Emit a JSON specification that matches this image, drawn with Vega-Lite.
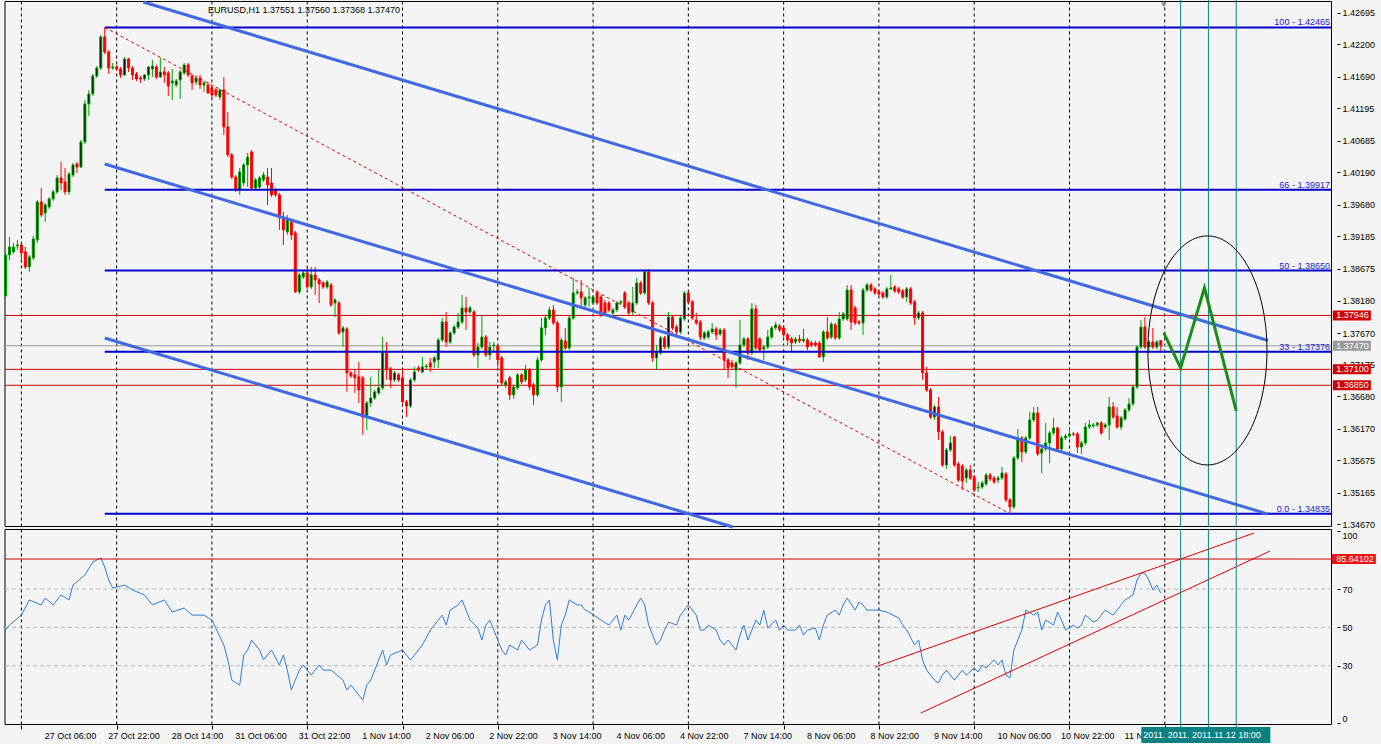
{
"$schema": "https://vega.github.io/schema/vega-lite/v6.json",
"width": 1381,
"height": 744,
"autosize": {"type": "none"},
"padding": 0,
"background": "#f4f4f4",
"config": {
  "view": {"stroke": null, "fill": "#f4f4f4"},
  "font": "Liberation Sans",
  "axis": {"labelFont": "Liberation Sans", "labelFontSize": 9, "labelColor": "#000000", "tickColor": "#000000", "domain": false, "grid": false, "labelOverlap": false}
},
"datasets": {
  "candles": [
{"i":0,"o":1.38252,"h":1.38943,"l":1.38189,"c":1.38896},
{"i":1,"o":1.38896,"h":1.39178,"l":1.38817,"c":1.39021},
{"i":2,"o":1.38943,"h":1.39084,"l":1.38911,"c":1.39021},
{"i":3,"o":1.39037,"h":1.39131,"l":1.38974,"c":1.39053},
{"i":4,"o":1.39053,"h":1.39084,"l":1.38770,"c":1.38927},
{"i":5,"o":1.38943,"h":1.39021,"l":1.38676,"c":1.38707},
{"i":6,"o":1.38707,"h":1.38896,"l":1.38629,"c":1.38864},
{"i":7,"o":1.38848,"h":1.39194,"l":1.38817,"c":1.39147},
{"i":8,"o":1.39131,"h":1.39759,"l":1.39084,"c":1.39728},
{"i":9,"o":1.39728,"h":1.39946,"l":1.39492,"c":1.39524},
{"i":10,"o":1.39555,"h":1.39712,"l":1.39414,"c":1.39680},
{"i":11,"o":1.39649,"h":1.39806,"l":1.39618,"c":1.39775},
{"i":12,"o":1.39775,"h":1.39916,"l":1.39743,"c":1.39885},
{"i":13,"o":1.39885,"h":1.40151,"l":1.39853,"c":1.40104},
{"i":14,"o":1.40104,"h":1.40355,"l":1.39916,"c":1.40025},
{"i":15,"o":1.40041,"h":1.40260,"l":1.39838,"c":1.39885},
{"i":16,"o":1.39885,"h":1.40198,"l":1.39838,"c":1.40166},
{"i":17,"o":1.40151,"h":1.40339,"l":1.40119,"c":1.40308},
{"i":18,"o":1.40323,"h":1.40355,"l":1.40182,"c":1.40276},
{"i":19,"o":1.40276,"h":1.40700,"l":1.40260,"c":1.40669},
{"i":20,"o":1.40669,"h":1.41328,"l":1.40637,"c":1.41265},
{"i":21,"o":1.41265,"h":1.41485,"l":1.41077,"c":1.41422},
{"i":22,"o":1.41422,"h":1.41735,"l":1.41391,"c":1.41704},
{"i":23,"o":1.41704,"h":1.41861,"l":1.41673,"c":1.41829},
{"i":24,"o":1.41829,"h":1.42348,"l":1.41798,"c":1.42316},
{"i":25,"o":1.42316,"h":1.42465,"l":1.42049,"c":1.42081},
{"i":26,"o":1.42081,"h":1.42112,"l":1.41735,"c":1.41829},
{"i":27,"o":1.41829,"h":1.41908,"l":1.41798,"c":1.41845},
{"i":28,"o":1.41845,"h":1.41877,"l":1.41782,"c":1.41814},
{"i":29,"o":1.41814,"h":1.41845,"l":1.41673,"c":1.41720},
{"i":30,"o":1.41720,"h":1.42002,"l":1.41704,"c":1.41971},
{"i":31,"o":1.41971,"h":1.41987,"l":1.41767,"c":1.41829},
{"i":32,"o":1.41829,"h":1.41861,"l":1.41642,"c":1.41720},
{"i":33,"o":1.41735,"h":1.41767,"l":1.41626,"c":1.41657},
{"i":34,"o":1.41673,"h":1.41704,"l":1.41595,"c":1.41657},
{"i":35,"o":1.41657,"h":1.41735,"l":1.41626,"c":1.41720},
{"i":36,"o":1.41720,"h":1.41861,"l":1.41642,"c":1.41845},
{"i":37,"o":1.41814,"h":1.41955,"l":1.41688,"c":1.41861},
{"i":38,"o":1.41845,"h":1.41877,"l":1.41657,"c":1.41688},
{"i":39,"o":1.41688,"h":1.41987,"l":1.41673,"c":1.41767},
{"i":40,"o":1.41767,"h":1.41845,"l":1.41595,"c":1.41720},
{"i":41,"o":1.41751,"h":1.41782,"l":1.41391,"c":1.41547},
{"i":42,"o":1.41595,"h":1.41814,"l":1.41328,"c":1.41626},
{"i":43,"o":1.41563,"h":1.41657,"l":1.41532,"c":1.41626},
{"i":44,"o":1.41642,"h":1.41798,"l":1.41344,"c":1.41767},
{"i":45,"o":1.41751,"h":1.41908,"l":1.41720,"c":1.41877},
{"i":46,"o":1.41877,"h":1.41908,"l":1.41688,"c":1.41720},
{"i":47,"o":1.41704,"h":1.41735,"l":1.41485,"c":1.41595},
{"i":48,"o":1.41610,"h":1.41688,"l":1.41563,"c":1.41673},
{"i":49,"o":1.41673,"h":1.41720,"l":1.41501,"c":1.41563},
{"i":50,"o":1.41563,"h":1.41626,"l":1.41454,"c":1.41595},
{"i":51,"o":1.41563,"h":1.41610,"l":1.41422,"c":1.41438},
{"i":52,"o":1.41516,"h":1.41547,"l":1.41359,"c":1.41406},
{"i":53,"o":1.41485,"h":1.41516,"l":1.41375,"c":1.41406},
{"i":54,"o":1.41375,"h":1.41500,"l":1.41328,"c":1.41485},
{"i":55,"o":1.41485,"h":1.41688,"l":1.40778,"c":1.40904},
{"i":56,"o":1.40904,"h":1.41140,"l":1.40433,"c":1.40465},
{"i":57,"o":1.40465,"h":1.40496,"l":1.40088,"c":1.40119},
{"i":58,"o":1.40119,"h":1.40151,"l":1.39885,"c":1.39916},
{"i":59,"o":1.39916,"h":1.40260,"l":1.39838,"c":1.40198},
{"i":60,"o":1.40025,"h":1.40339,"l":1.39978,"c":1.40308},
{"i":61,"o":1.40308,"h":1.40496,"l":1.39962,"c":1.40433},
{"i":62,"o":1.40512,"h":1.40543,"l":1.39916,"c":1.39946},
{"i":63,"o":1.39946,"h":1.40104,"l":1.39916,"c":1.40072},
{"i":64,"o":1.39962,"h":1.40135,"l":1.39931,"c":1.40104},
{"i":65,"o":1.40072,"h":1.40198,"l":1.40041,"c":1.40151},
{"i":66,"o":1.40119,"h":1.40260,"l":1.39680,"c":1.39994},
{"i":67,"o":1.40025,"h":1.40260,"l":1.39806,"c":1.39838},
{"i":68,"o":1.39916,"h":1.39946,"l":1.39806,"c":1.39838},
{"i":69,"o":1.39838,"h":1.39869,"l":1.39288,"c":1.39476},
{"i":70,"o":1.39476,"h":1.39571,"l":1.39053,"c":1.39288},
{"i":71,"o":1.39257,"h":1.39524,"l":1.39210,"c":1.39445},
{"i":72,"o":1.39414,"h":1.39445,"l":1.39131,"c":1.39210},
{"i":73,"o":1.39241,"h":1.39272,"l":1.38299,"c":1.38315},
{"i":74,"o":1.38315,"h":1.38613,"l":1.38283,"c":1.38582},
{"i":75,"o":1.38550,"h":1.38660,"l":1.38519,"c":1.38613},
{"i":76,"o":1.38613,"h":1.38707,"l":1.38362,"c":1.38393},
{"i":77,"o":1.38393,"h":1.38707,"l":1.38362,"c":1.38582},
{"i":78,"o":1.38582,"h":1.38707,"l":1.38268,"c":1.38503},
{"i":79,"o":1.38503,"h":1.38535,"l":1.38142,"c":1.38440},
{"i":80,"o":1.38456,"h":1.38487,"l":1.38362,"c":1.38393},
{"i":81,"o":1.38393,"h":1.38503,"l":1.38362,"c":1.38472},
{"i":82,"o":1.38425,"h":1.38456,"l":1.38079,"c":1.38111},
{"i":83,"o":1.38142,"h":1.38221,"l":1.37922,"c":1.38189},
{"i":84,"o":1.38142,"h":1.38173,"l":1.37640,"c":1.37671},
{"i":85,"o":1.37687,"h":1.37781,"l":1.37451,"c":1.37750},
{"i":86,"o":1.37734,"h":1.37765,"l":1.36746,"c":1.37044},
{"i":87,"o":1.37044,"h":1.37075,"l":1.36966,"c":1.36997},
{"i":88,"o":1.37013,"h":1.37091,"l":1.36730,"c":1.36966},
{"i":89,"o":1.36982,"h":1.37216,"l":1.36573,"c":1.36777},
{"i":90,"o":1.36966,"h":1.36997,"l":1.36071,"c":1.36353},
{"i":91,"o":1.36353,"h":1.36604,"l":1.36149,"c":1.36573},
{"i":92,"o":1.36573,"h":1.36982,"l":1.36510,"c":1.36651},
{"i":93,"o":1.36651,"h":1.36777,"l":1.36620,"c":1.36746},
{"i":94,"o":1.36730,"h":1.37091,"l":1.36699,"c":1.36809},
{"i":95,"o":1.36809,"h":1.37608,"l":1.36777,"c":1.37357},
{"i":96,"o":1.37357,"h":1.37530,"l":1.36934,"c":1.37091},
{"i":97,"o":1.37107,"h":1.37138,"l":1.36809,"c":1.36934},
{"i":98,"o":1.36934,"h":1.37075,"l":1.36903,"c":1.37044},
{"i":99,"o":1.37013,"h":1.37044,"l":1.36903,"c":1.36934},
{"i":100,"o":1.36966,"h":1.37091,"l":1.36573,"c":1.36589},
{"i":101,"o":1.36589,"h":1.36620,"l":1.36353,"c":1.36526},
{"i":102,"o":1.36526,"h":1.36966,"l":1.36494,"c":1.36934},
{"i":103,"o":1.36934,"h":1.37138,"l":1.36903,"c":1.37060},
{"i":104,"o":1.37122,"h":1.37154,"l":1.37060,"c":1.37091},
{"i":105,"o":1.37060,"h":1.37295,"l":1.37044,"c":1.37138},
{"i":106,"o":1.37138,"h":1.37185,"l":1.37107,"c":1.37154},
{"i":107,"o":1.37201,"h":1.37279,"l":1.37060,"c":1.37138},
{"i":108,"o":1.37217,"h":1.37310,"l":1.37122,"c":1.37279},
{"i":109,"o":1.37248,"h":1.37593,"l":1.37122,"c":1.37561},
{"i":110,"o":1.37561,"h":1.37907,"l":1.37530,"c":1.37844},
{"i":111,"o":1.37844,"h":1.38001,"l":1.37451,"c":1.37530},
{"i":112,"o":1.37530,"h":1.37702,"l":1.37498,"c":1.37671},
{"i":113,"o":1.37671,"h":1.37797,"l":1.37640,"c":1.37765},
{"i":114,"o":1.37765,"h":1.37985,"l":1.37734,"c":1.37844},
{"i":115,"o":1.37844,"h":1.38268,"l":1.37812,"c":1.38064},
{"i":116,"o":1.38064,"h":1.38236,"l":1.37718,"c":1.38001},
{"i":117,"o":1.38001,"h":1.38095,"l":1.37970,"c":1.38064},
{"i":118,"o":1.38001,"h":1.38032,"l":1.37295,"c":1.37326},
{"i":119,"o":1.37326,"h":1.37514,"l":1.37122,"c":1.37451},
{"i":120,"o":1.37451,"h":1.37953,"l":1.37420,"c":1.37608},
{"i":121,"o":1.37608,"h":1.37640,"l":1.37295,"c":1.37326},
{"i":122,"o":1.37326,"h":1.37530,"l":1.37248,"c":1.37451},
{"i":123,"o":1.37467,"h":1.37530,"l":1.37373,"c":1.37482},
{"i":124,"o":1.37467,"h":1.37498,"l":1.37138,"c":1.37248},
{"i":125,"o":1.37279,"h":1.37310,"l":1.36856,"c":1.36887},
{"i":126,"o":1.36856,"h":1.36934,"l":1.36809,"c":1.36903},
{"i":127,"o":1.36966,"h":1.36997,"l":1.36620,"c":1.36699},
{"i":128,"o":1.36699,"h":1.36856,"l":1.36636,"c":1.36824},
{"i":129,"o":1.36809,"h":1.37044,"l":1.36777,"c":1.37013},
{"i":130,"o":1.37013,"h":1.37044,"l":1.36871,"c":1.36903},
{"i":131,"o":1.36934,"h":1.37170,"l":1.36903,"c":1.37091},
{"i":132,"o":1.37091,"h":1.37122,"l":1.36777,"c":1.36824},
{"i":133,"o":1.36856,"h":1.36887,"l":1.36542,"c":1.36699},
{"i":134,"o":1.36699,"h":1.37295,"l":1.36667,"c":1.37248},
{"i":135,"o":1.37248,"h":1.37907,"l":1.37217,"c":1.37750},
{"i":136,"o":1.37750,"h":1.37938,"l":1.37640,"c":1.37907},
{"i":137,"o":1.37907,"h":1.38079,"l":1.37875,"c":1.38032},
{"i":138,"o":1.38032,"h":1.38111,"l":1.37797,"c":1.37828},
{"i":139,"o":1.37828,"h":1.37860,"l":1.36746,"c":1.36824},
{"i":140,"o":1.36824,"h":1.37593,"l":1.36589,"c":1.37561},
{"i":141,"o":1.37546,"h":1.37750,"l":1.37404,"c":1.37436},
{"i":142,"o":1.37436,"h":1.37938,"l":1.37404,"c":1.37907},
{"i":143,"o":1.37907,"h":1.38535,"l":1.37875,"c":1.38299},
{"i":144,"o":1.38299,"h":1.38362,"l":1.38268,"c":1.38315},
{"i":145,"o":1.38315,"h":1.38503,"l":1.38079,"c":1.38221},
{"i":146,"o":1.38111,"h":1.38252,"l":1.38079,"c":1.38221},
{"i":147,"o":1.38221,"h":1.38378,"l":1.38079,"c":1.38236},
{"i":148,"o":1.38142,"h":1.38268,"l":1.38111,"c":1.38236},
{"i":149,"o":1.38299,"h":1.38346,"l":1.38111,"c":1.38142},
{"i":150,"o":1.38236,"h":1.38268,"l":1.37922,"c":1.37954},
{"i":151,"o":1.38142,"h":1.38189,"l":1.37954,"c":1.37985},
{"i":152,"o":1.38142,"h":1.38173,"l":1.38001,"c":1.38032},
{"i":153,"o":1.37985,"h":1.38064,"l":1.37954,"c":1.38032},
{"i":154,"o":1.38032,"h":1.38173,"l":1.38001,"c":1.38142},
{"i":155,"o":1.38142,"h":1.38189,"l":1.38111,"c":1.38158},
{"i":156,"o":1.38299,"h":1.38330,"l":1.38048,"c":1.38079},
{"i":157,"o":1.38142,"h":1.38173,"l":1.37954,"c":1.37985},
{"i":158,"o":1.38001,"h":1.38393,"l":1.37954,"c":1.38142},
{"i":159,"o":1.38142,"h":1.38535,"l":1.38111,"c":1.38456},
{"i":160,"o":1.38456,"h":1.38487,"l":1.38268,"c":1.38299},
{"i":161,"o":1.38299,"h":1.38660,"l":1.38268,"c":1.38629},
{"i":162,"o":1.38629,"h":1.38676,"l":1.38111,"c":1.38142},
{"i":163,"o":1.38142,"h":1.38173,"l":1.37217,"c":1.37279},
{"i":164,"o":1.37279,"h":1.37482,"l":1.37091,"c":1.37357},
{"i":165,"o":1.37357,"h":1.37624,"l":1.37326,"c":1.37593},
{"i":166,"o":1.37593,"h":1.37624,"l":1.37420,"c":1.37451},
{"i":167,"o":1.37451,"h":1.38001,"l":1.37420,"c":1.37922},
{"i":168,"o":1.37922,"h":1.37954,"l":1.37718,"c":1.37750},
{"i":169,"o":1.37765,"h":1.37797,"l":1.37655,"c":1.37687},
{"i":170,"o":1.37687,"h":1.37938,"l":1.37655,"c":1.37907},
{"i":171,"o":1.37891,"h":1.38330,"l":1.37860,"c":1.38299},
{"i":172,"o":1.38299,"h":1.38330,"l":1.38126,"c":1.38158},
{"i":173,"o":1.38158,"h":1.38189,"l":1.37875,"c":1.37907},
{"i":174,"o":1.37875,"h":1.37985,"l":1.37797,"c":1.37828},
{"i":175,"o":1.37844,"h":1.37875,"l":1.37561,"c":1.37608},
{"i":176,"o":1.37593,"h":1.37702,"l":1.37561,"c":1.37671},
{"i":177,"o":1.37608,"h":1.37718,"l":1.37577,"c":1.37687},
{"i":178,"o":1.37687,"h":1.37828,"l":1.37655,"c":1.37734},
{"i":179,"o":1.37734,"h":1.37765,"l":1.37561,"c":1.37640},
{"i":180,"o":1.37655,"h":1.37750,"l":1.37624,"c":1.37718},
{"i":181,"o":1.37718,"h":1.37750,"l":1.37091,"c":1.37248},
{"i":182,"o":1.37248,"h":1.37279,"l":1.36966,"c":1.37122},
{"i":183,"o":1.37201,"h":1.37248,"l":1.37107,"c":1.37138},
{"i":184,"o":1.37091,"h":1.37232,"l":1.36809,"c":1.37201},
{"i":185,"o":1.37201,"h":1.37875,"l":1.37170,"c":1.37482},
{"i":186,"o":1.37482,"h":1.37608,"l":1.37451,"c":1.37577},
{"i":187,"o":1.37577,"h":1.37608,"l":1.37248,"c":1.37357},
{"i":188,"o":1.37357,"h":1.38142,"l":1.37326,"c":1.38048},
{"i":189,"o":1.38048,"h":1.38111,"l":1.37404,"c":1.37436},
{"i":190,"o":1.37577,"h":1.37608,"l":1.37373,"c":1.37404},
{"i":191,"o":1.37420,"h":1.37482,"l":1.37248,"c":1.37451},
{"i":192,"o":1.37451,"h":1.37718,"l":1.37420,"c":1.37608},
{"i":193,"o":1.37608,"h":1.37781,"l":1.37577,"c":1.37750},
{"i":194,"o":1.37750,"h":1.37844,"l":1.37718,"c":1.37797},
{"i":195,"o":1.37781,"h":1.37812,"l":1.37687,"c":1.37718},
{"i":196,"o":1.37750,"h":1.37797,"l":1.37608,"c":1.37640},
{"i":197,"o":1.37640,"h":1.37671,"l":1.37482,"c":1.37561},
{"i":198,"o":1.37577,"h":1.37608,"l":1.37373,"c":1.37514},
{"i":199,"o":1.37530,"h":1.37608,"l":1.37498,"c":1.37577},
{"i":200,"o":1.37577,"h":1.37640,"l":1.37514,"c":1.37546},
{"i":201,"o":1.37546,"h":1.37734,"l":1.37514,"c":1.37577},
{"i":202,"o":1.37561,"h":1.37593,"l":1.37404,"c":1.37451},
{"i":203,"o":1.37514,"h":1.37546,"l":1.37451,"c":1.37482},
{"i":204,"o":1.37514,"h":1.37546,"l":1.37451,"c":1.37482},
{"i":205,"o":1.37514,"h":1.37546,"l":1.37279,"c":1.37295},
{"i":206,"o":1.37295,"h":1.37718,"l":1.37217,"c":1.37687},
{"i":207,"o":1.37687,"h":1.37922,"l":1.37561,"c":1.37593},
{"i":208,"o":1.37608,"h":1.37844,"l":1.37577,"c":1.37812},
{"i":209,"o":1.37797,"h":1.37828,"l":1.37561,"c":1.37593},
{"i":210,"o":1.37593,"h":1.38001,"l":1.37561,"c":1.37891},
{"i":211,"o":1.37891,"h":1.38001,"l":1.37860,"c":1.37970},
{"i":212,"o":1.37891,"h":1.38425,"l":1.37860,"c":1.38346},
{"i":213,"o":1.38346,"h":1.38425,"l":1.37718,"c":1.37844},
{"i":214,"o":1.38064,"h":1.38095,"l":1.37797,"c":1.37828},
{"i":215,"o":1.37844,"h":1.37875,"l":1.37797,"c":1.37828},
{"i":216,"o":1.37828,"h":1.38378,"l":1.37640,"c":1.38346},
{"i":217,"o":1.38346,"h":1.38456,"l":1.38315,"c":1.38425},
{"i":218,"o":1.38425,"h":1.38456,"l":1.38315,"c":1.38346},
{"i":219,"o":1.38362,"h":1.38393,"l":1.38268,"c":1.38299},
{"i":220,"o":1.38315,"h":1.38346,"l":1.38252,"c":1.38283},
{"i":221,"o":1.38299,"h":1.38330,"l":1.38205,"c":1.38236},
{"i":222,"o":1.38236,"h":1.38393,"l":1.38205,"c":1.38362},
{"i":223,"o":1.38362,"h":1.38582,"l":1.38346,"c":1.38378},
{"i":224,"o":1.38393,"h":1.38425,"l":1.38299,"c":1.38330},
{"i":225,"o":1.38362,"h":1.38393,"l":1.38283,"c":1.38315},
{"i":226,"o":1.38330,"h":1.38362,"l":1.38205,"c":1.38236},
{"i":227,"o":1.38236,"h":1.38393,"l":1.38158,"c":1.38362},
{"i":228,"o":1.38362,"h":1.38393,"l":1.38111,"c":1.38142},
{"i":229,"o":1.38158,"h":1.38189,"l":1.37797,"c":1.37907},
{"i":230,"o":1.37907,"h":1.38016,"l":1.37875,"c":1.37985},
{"i":231,"o":1.37985,"h":1.38016,"l":1.36934,"c":1.37044},
{"i":232,"o":1.37044,"h":1.37138,"l":1.36746,"c":1.36777},
{"i":233,"o":1.36777,"h":1.36809,"l":1.36322,"c":1.36353},
{"i":234,"o":1.36353,"h":1.36542,"l":1.36306,"c":1.36510},
{"i":235,"o":1.36510,"h":1.36667,"l":1.35992,"c":1.36118},
{"i":236,"o":1.36118,"h":1.36149,"l":1.35568,"c":1.35600},
{"i":237,"o":1.35600,"h":1.35866,"l":1.35537,"c":1.35835},
{"i":238,"o":1.35835,"h":1.36055,"l":1.35804,"c":1.35945},
{"i":239,"o":1.36039,"h":1.36055,"l":1.35568,"c":1.35600},
{"i":240,"o":1.35615,"h":1.35647,"l":1.35333,"c":1.35364},
{"i":241,"o":1.35584,"h":1.35615,"l":1.35207,"c":1.35348},
{"i":242,"o":1.35395,"h":1.35552,"l":1.35317,"c":1.35521},
{"i":243,"o":1.35521,"h":1.35600,"l":1.35364,"c":1.35395},
{"i":244,"o":1.35411,"h":1.35443,"l":1.35176,"c":1.35207},
{"i":245,"o":1.35238,"h":1.35333,"l":1.35176,"c":1.35254},
{"i":246,"o":1.35254,"h":1.35348,"l":1.35223,"c":1.35317},
{"i":247,"o":1.35301,"h":1.35474,"l":1.35270,"c":1.35443},
{"i":248,"o":1.35443,"h":1.35474,"l":1.35348,"c":1.35380},
{"i":249,"o":1.35395,"h":1.35427,"l":1.35301,"c":1.35333},
{"i":250,"o":1.35364,"h":1.35427,"l":1.35317,"c":1.35395},
{"i":251,"o":1.35395,"h":1.35568,"l":1.35364,"c":1.35474},
{"i":252,"o":1.35458,"h":1.35490,"l":1.35019,"c":1.35051},
{"i":253,"o":1.35051,"h":1.35082,"l":1.34835,"c":1.34941},
{"i":254,"o":1.34941,"h":1.35741,"l":1.34910,"c":1.35710},
{"i":255,"o":1.35710,"h":1.36165,"l":1.35678,"c":1.36024},
{"i":256,"o":1.36024,"h":1.36055,"l":1.35647,"c":1.35804},
{"i":257,"o":1.35804,"h":1.36055,"l":1.35772,"c":1.36024},
{"i":258,"o":1.36024,"h":1.36432,"l":1.35992,"c":1.36306},
{"i":259,"o":1.36306,"h":1.36510,"l":1.36275,"c":1.36416},
{"i":260,"o":1.36416,"h":1.36510,"l":1.35741,"c":1.35772},
{"i":261,"o":1.35788,"h":1.35882,"l":1.35474,"c":1.35851},
{"i":262,"o":1.35851,"h":1.36259,"l":1.35819,"c":1.35945},
{"i":263,"o":1.35945,"h":1.36133,"l":1.35631,"c":1.36102},
{"i":264,"o":1.36102,"h":1.36338,"l":1.36071,"c":1.36180},
{"i":265,"o":1.36180,"h":1.36196,"l":1.35819,"c":1.35851},
{"i":266,"o":1.35851,"h":1.36055,"l":1.35819,"c":1.36024},
{"i":267,"o":1.36024,"h":1.36086,"l":1.35992,"c":1.36055},
{"i":268,"o":1.36055,"h":1.36165,"l":1.36024,"c":1.36086},
{"i":269,"o":1.36086,"h":1.36118,"l":1.36055,"c":1.36080},
{"i":270,"o":1.36086,"h":1.36118,"l":1.35788,"c":1.35882},
{"i":271,"o":1.35882,"h":1.35976,"l":1.35772,"c":1.35945},
{"i":272,"o":1.35945,"h":1.36259,"l":1.35914,"c":1.36196},
{"i":273,"o":1.36196,"h":1.36306,"l":1.36165,"c":1.36228},
{"i":274,"o":1.36212,"h":1.36259,"l":1.36180,"c":1.36228},
{"i":275,"o":1.36228,"h":1.36275,"l":1.36196,"c":1.36259},
{"i":276,"o":1.36259,"h":1.36290,"l":1.36071,"c":1.36102},
{"i":277,"o":1.36196,"h":1.36259,"l":1.36165,"c":1.36228},
{"i":278,"o":1.36228,"h":1.36667,"l":1.35992,"c":1.36510},
{"i":279,"o":1.36510,"h":1.36588,"l":1.36322,"c":1.36353},
{"i":280,"o":1.36369,"h":1.36510,"l":1.36165,"c":1.36196},
{"i":281,"o":1.36196,"h":1.36369,"l":1.36149,"c":1.36338},
{"i":282,"o":1.36322,"h":1.36494,"l":1.36290,"c":1.36463},
{"i":283,"o":1.36463,"h":1.36651,"l":1.36432,"c":1.36557},
{"i":284,"o":1.36557,"h":1.36856,"l":1.36526,"c":1.36824},
{"i":285,"o":1.36824,"h":1.37482,"l":1.36793,"c":1.37451},
{"i":286,"o":1.37451,"h":1.37875,"l":1.37420,"c":1.37765},
{"i":287,"o":1.37765,"h":1.37922,"l":1.37420,"c":1.37451},
{"i":288,"o":1.37451,"h":1.37561,"l":1.37357,"c":1.37530},
{"i":289,"o":1.37530,"h":1.37750,"l":1.37420,"c":1.37451},
{"i":290,"o":1.37451,"h":1.37561,"l":1.37420,"c":1.37530},
{"i":291,"o":1.37551,"h":1.37560,"l":1.37368,"c":1.37470}
  ],
  "rsi": [
{"i":0,"v":48.6},{"i":1,"v":51.2},{"i":4,"v":56.4},{"i":6,"v":64.3},{"i":9,"v":61.7},{"i":10,"v":65.3},{"i":12,"v":61.7},{"i":14,"v":66.9},{"i":16,"v":64.3},{"i":17,"v":72.1},{"i":20,"v":77.3},{"i":22,"v":84.1},{"i":24,"v":86.2},{"i":25,"v":81.5},{"i":26,"v":74.7},{"i":27,"v":70.5},{"i":30,"v":72.1},{"i":32,"v":69.5},{"i":35,"v":66.9},{"i":37,"v":61.7},{"i":40,"v":64.3},{"i":42,"v":58.0},{"i":45,"v":60.1},{"i":47,"v":56.4},{"i":50,"v":56.4},{"i":52,"v":53.8},{"i":55,"v":40.8},{"i":56,"v":33.0},{"i":57,"v":22.5},{"i":59,"v":19.9},{"i":60,"v":35.6},{"i":61,"v":38.2},{"i":62,"v":43.4},{"i":64,"v":38.2},{"i":65,"v":33.0},{"i":67,"v":38.2},{"i":69,"v":30.4},{"i":70,"v":35.6},{"i":71,"v":27.7},{"i":72,"v":17.3},{"i":74,"v":27.7},{"i":75,"v":30.4},{"i":77,"v":25.1},{"i":79,"v":30.4},{"i":80,"v":27.7},{"i":82,"v":27.7},{"i":85,"v":22.5},{"i":86,"v":17.3},{"i":87,"v":19.9},{"i":90,"v":12.1},{"i":91,"v":19.9},{"i":92,"v":22.5},{"i":94,"v":33.0},{"i":95,"v":38.2},{"i":96,"v":30.4},{"i":97,"v":35.6},{"i":100,"v":38.2},{"i":102,"v":33.0},{"i":105,"v":40.8},{"i":107,"v":48.6},{"i":110,"v":56.4},{"i":111,"v":51.2},{"i":112,"v":59.0},{"i":114,"v":61.7},{"i":115,"v":64.3},{"i":116,"v":59.0},{"i":117,"v":53.8},{"i":119,"v":49.7},{"i":120,"v":43.4},{"i":121,"v":51.2},{"i":122,"v":53.8},{"i":124,"v":43.4},{"i":125,"v":38.2},{"i":126,"v":35.6},{"i":127,"v":40.8},{"i":129,"v":38.2},{"i":130,"v":43.4},{"i":131,"v":40.8},{"i":132,"v":38.2},{"i":134,"v":40.8},{"i":135,"v":53.8},{"i":136,"v":61.7},{"i":137,"v":64.3},{"i":138,"v":43.4},{"i":139,"v":33.0},{"i":140,"v":51.2},{"i":141,"v":56.4},{"i":142,"v":64.3},{"i":144,"v":61.7},{"i":145,"v":61.7},{"i":146,"v":59.0},{"i":147,"v":58.0},{"i":150,"v":53.8},{"i":152,"v":51.2},{"i":154,"v":56.4},{"i":155,"v":48.6},{"i":156,"v":56.4},{"i":157,"v":53.8},{"i":159,"v":61.7},{"i":160,"v":65.3},{"i":161,"v":61.7},{"i":162,"v":51.2},{"i":164,"v":40.8},{"i":165,"v":43.4},{"i":166,"v":48.6},{"i":167,"v":52.8},{"i":169,"v":51.2},{"i":170,"v":56.4},{"i":171,"v":59.0},{"i":172,"v":61.7},{"i":174,"v":56.4},{"i":175,"v":48.6},{"i":176,"v":48.6},{"i":177,"v":51.2},{"i":179,"v":48.6},{"i":180,"v":43.4},{"i":181,"v":40.8},{"i":182,"v":43.4},{"i":184,"v":38.2},{"i":185,"v":46.0},{"i":186,"v":51.2},{"i":187,"v":43.4},{"i":189,"v":53.8},{"i":190,"v":51.2},{"i":191,"v":59.0},{"i":192,"v":49.7},{"i":194,"v":53.8},{"i":195,"v":48.6},{"i":196,"v":51.2},{"i":197,"v":48.6},{"i":199,"v":48.6},{"i":200,"v":51.2},{"i":201,"v":46.0},{"i":202,"v":48.6},{"i":204,"v":49.7},{"i":205,"v":43.4},{"i":206,"v":51.2},{"i":207,"v":56.4},{"i":209,"v":59.0},{"i":210,"v":56.4},{"i":211,"v":61.7},{"i":212,"v":65.3},{"i":214,"v":59.0},{"i":215,"v":63.2},{"i":216,"v":61.7},{"i":217,"v":59.0},{"i":220,"v":59.0},{"i":222,"v":58.0},{"i":225,"v":54.9},{"i":226,"v":51.2},{"i":227,"v":48.6},{"i":229,"v":40.8},{"i":230,"v":43.4},{"i":231,"v":33.0},{"i":232,"v":27.7},{"i":234,"v":22.5},{"i":235,"v":21.0},{"i":236,"v":25.1},{"i":237,"v":27.7},{"i":239,"v":22.5},{"i":240,"v":25.1},{"i":241,"v":27.7},{"i":242,"v":25.1},{"i":244,"v":28.8},{"i":245,"v":26.7},{"i":246,"v":30.4},{"i":247,"v":28.8},{"i":249,"v":33.0},{"i":250,"v":30.4},{"i":251,"v":33.0},{"i":252,"v":25.1},{"i":253,"v":23.6},{"i":254,"v":38.2},{"i":255,"v":43.4},{"i":256,"v":48.6},{"i":257,"v":59.0},{"i":259,"v":56.4},{"i":260,"v":58.0},{"i":261,"v":48.6},{"i":262,"v":53.8},{"i":264,"v":51.2},{"i":265,"v":58.0},{"i":266,"v":53.8},{"i":267,"v":48.6},{"i":269,"v":51.2},{"i":270,"v":49.7},{"i":271,"v":51.2},{"i":272,"v":56.4},{"i":274,"v":52.8},{"i":275,"v":53.8},{"i":276,"v":56.4},{"i":277,"v":59.0},{"i":279,"v":56.4},{"i":280,"v":59.0},{"i":281,"v":61.7},{"i":282,"v":64.3},{"i":284,"v":66.9},{"i":285,"v":74.7},{"i":286,"v":78.3},{"i":287,"v":78.3},{"i":288,"v":74.7},{"i":289,"v":69.5},{"i":290,"v":72.1},{"i":291,"v":67.9}
  ],
  "days": [{"i":4},{"i":28},{"i":52},{"i":76},{"i":100},{"i":124},{"i":148},{"i":172},{"i":196},{"i":220},{"i":244},{"i":268},{"i":292}],
  "levels": [
    {"p":1.37946,"kind":"res"},{"p":1.37100,"kind":"res"},{"p":1.36850,"kind":"res"},{"p":1.37470,"kind":"bid"}
  ],
  "tags": [
    {"p":1.37946,"t":"1.37946","kind":"res"},{"p":1.37470,"t":"1.37470","kind":"bid"},{"p":1.37100,"t":"1.37100","kind":"res"},{"p":1.36850,"t":"1.36850","kind":"res"}
  ],
  "fib": [
    {"p":1.42465,"t":"100 - 1.42465"},{"p":1.39917,"t":"66 - 1.39917"},{"p":1.38650,"t":"50 - 1.38650"},{"p":1.37376,"t":"33 - 1.37376"},{"p":1.34835,"t":"0.0 - 1.34835"}
  ],
  "fibdiag": [{"i":25,"p":1.42465},{"i":253,"p":1.34835}],
  "channel": [
    {"ln":"A","i":34.7,"p":1.42865},{"ln":"A","i":318,"p":1.37553},
    {"ln":"B","i":25,"p":1.40323},{"ln":"B","i":318,"p":1.34829},
    {"ln":"C","i":25,"p":1.37593},{"ln":"C","i":183.2,"p":1.34626}
  ],
  "zigzag": [{"i":291.75,"p":1.37671},{"i":296,"p":1.37122},{"i":302,"p":1.38378},{"i":310,"p":1.36447}],
  "vlines": [{"i":296},{"i":303},{"i":310}],
  "rsilevels": [{"lvl":30},{"lvl":50},{"lvl":70}],
  "rsitrend": [
    {"ln":"u","i":219,"v":29.3},{"ln":"u","i":314.5,"v":99.2},
    {"ln":"d","i":230.5,"v":5.3},{"ln":"d","i":318.5,"v":89.8}
  ]
},
"layer": [
{
  "layer": [
    {
      "data": {"values": [{"panel": "main"}]},
      "mark": {"type": "rect", "fill": "transparent", "stroke": "#000000", "strokeWidth": 1},
      "encoding": {
        "x": {"datum": -0.125},
        "x2": {"datum": 334.0},
        "y": {"datum": 1.34634},
        "y2": {"datum": 1.42873}
      }
    },
    {
      "data": {"name": "days"},
      "mark": {"type": "rule", "color": "#000000", "strokeWidth": 1, "strokeDash": [3,3]},
      "encoding": {
        "x": {"field": "i", "type": "quantitative", "title": null},
        "y": {"datum": 1.34634},
        "y2": {"datum": 1.42873}
      }
    },
    {
      "data": {"name": "levels"},
      "mark": {"type": "rule", "strokeWidth": 1},
      "encoding": {
        "x": {"datum": -0.125},
        "x2": {"datum": 334.0},
        "y": {"field": "p", "type": "quantitative", "title": null},
        "color": {"field": "kind", "type": "nominal", "scale": {"domain": ["res","bid"], "range": ["#d00000","#9a9a9a"]}, "legend": null}
      }
    },
    {
      "data": {"name": "candles"},
      "mark": {"type": "rule", "strokeWidth": 1},
      "encoding": {
        "x": {"field": "i", "type": "quantitative", "title": null,
              "scale": {"domain": [-0.125, 334.125], "range": [0, 1337], "nice": false, "zero": false}},
        "y": {"field": "l", "type": "quantitative", "title": null,
              "scale": {"domain": [1.34626, 1.42865], "range": [527, 2], "nice": false, "zero": false},
              "axis": {"orient": "right", "offset": -44, "values": [1.34670,1.35165,1.35675,1.36170,1.36680,1.37175,1.37670,1.38180,1.38675,1.39185,1.39680,1.40190,1.40685,1.41195,1.41690,1.42200,1.42695], "format": ".5f", "tickSize": 3, "labelPadding": 2, "grid": false, "domain": false, "title": null}},
        "y2": {"field": "h"},
        "color": {"condition": {"test": "datum.c >= datum.o", "value": "#00a000"}, "value": "#ff0000"}
      }
    },
    {
      "data": {"name": "candles"},
      "mark": {"type": "bar", "width": 2, "strokeWidth": 1, "orient": "vertical"},
      "encoding": {
        "x": {"field": "i", "type": "quantitative", "title": null},
        "y": {"field": "o", "type": "quantitative", "title": null},
        "y2": {"field": "c"},
        "fill": {"condition": {"test": "datum.c >= datum.o", "value": "#000000"}, "value": "#ff0000"},
        "stroke": {"condition": {"test": "datum.c >= datum.o", "value": "#00a000"}, "value": "#ff0000"}
      }
    },
    {
      "data": {"name": "fib"},
      "mark": {"type": "rule", "strokeWidth": 2, "color": "#0000cc"},
      "encoding": {
        "x": {"datum": 25},
        "x2": {"datum": 334.0},
        "y": {"field": "p", "type": "quantitative", "title": null}
      }
    },
    {
      "data": {"name": "fib"},
      "mark": {"type": "text", "align": "right", "baseline": "alphabetic", "dy": -2, "fontSize": 9, "font": "Liberation Sans", "color": "#1a1acd"},
      "encoding": {
        "x": {"datum": 333.6},
        "y": {"field": "p", "type": "quantitative", "title": null},
        "text": {"field": "t"}
      }
    },
    {
      "data": {"name": "fibdiag"},
      "mark": {"type": "line", "color": "#e00000", "strokeWidth": 1, "strokeDash": [3,3]},
      "encoding": {
        "x": {"field": "i", "type": "quantitative", "title": null},
        "y": {"field": "p", "type": "quantitative", "title": null}
      }
    },
    {
      "data": {"name": "channel"},
      "mark": {"type": "line", "color": "#4169e1", "strokeWidth": 3},
      "encoding": {
        "x": {"field": "i", "type": "quantitative", "title": null},
        "y": {"field": "p", "type": "quantitative", "title": null},
        "detail": {"field": "ln"}
      }
    },
    {
      "data": {"name": "vlines"},
      "mark": {"type": "rule", "color": "#108080", "strokeWidth": 1},
      "encoding": {
        "x": {"field": "i", "type": "quantitative", "title": null},
        "y": {"datum": 1.34626},
        "y2": {"datum": 1.4405}
      }
    },
    {
      "data": {"name": "zigzag"},
      "mark": {"type": "line", "color": "#1a8c1a", "strokeWidth": 3},
      "encoding": {
        "x": {"field": "i", "type": "quantitative", "title": null},
        "y": {"field": "p", "type": "quantitative", "title": null}
      }
    },
    {
      "data": {"values": [{"name": "ellipse"}]},
      "mark": {"type": "point", "shape": "M -0.52 0 A 0.52 1 0 1 1 0.52 0 A 0.52 1 0 1 1 -0.52 0 Z", "size": 52441, "filled": false, "stroke": "#000000", "strokeWidth": 1, "opacity": 1},
      "encoding": {
        "x": {"datum": 302.75},
        "y": {"datum": 1.37397}
      }
    },
    {
      "data": {"values": [{"t": "EURUSD,H1  1.37551 1.37560 1.37368 1.37470"}]},
      "mark": {"type": "text", "align": "left", "baseline": "middle", "fontSize": 9, "font": "Liberation Sans", "color": "#000000"},
      "encoding": {
        "x": {"datum": 51},
        "y": {"datum": 1.42732},
        "text": {"field": "t"}
      }
    },
    {
      "data": {"values": [{"name": "shift"}]},
      "mark": {"type": "point", "shape": "triangle-down", "size": 30, "filled": true, "color": "#8c8c8c", "opacity": 1},
      "encoding": {
        "x": {"datum": 291.75},
        "y": {"datum": 1.42818}
      }
    },
    {
      "data": {"name": "tags"},
      "mark": {"type": "point", "shape": "M -1 -0.263 L 1 -0.263 L 1 0.263 L -1 0.263 Z", "size": 1444, "filled": true, "opacity": 1},
      "encoding": {
        "x": {"datum": 339.125},
        "y": {"field": "p", "type": "quantitative", "title": null},
        "color": {"field": "kind", "type": "nominal", "scale": {"domain": ["res","bid"], "range": ["#ee1111","#000000"]}, "legend": null}
      }
    },
    {
      "data": {"name": "tags"},
      "mark": {"type": "text", "align": "left", "baseline": "middle", "fontSize": 9, "font": "Liberation Sans", "color": "#ffffff"},
      "encoding": {
        "x": {"datum": 335.2},
        "y": {"field": "p", "type": "quantitative", "title": null},
        "text": {"field": "t"}
      }
    }
  ]
},
{
  "layer": [
    {
      "data": {"values": [{"panel": "rsi"}]},
      "mark": {"type": "rect", "fill": "transparent", "stroke": "#000000", "strokeWidth": 1},
      "encoding": {
        "x": {"datum": -0.125},
        "x2": {"datum": 334.0},
        "y": {"datum": -0.64},
        "y2": {"datum": 101.04}
      }
    },
    {
      "data": {"name": "days"},
      "mark": {"type": "rule", "color": "#000000", "strokeWidth": 1, "strokeDash": [3,3]},
      "encoding": {
        "x": {"field": "i", "type": "quantitative", "title": null},
        "y": {"datum": -0.64},
        "y2": {"datum": 101.04}
      }
    },
    {
      "data": {"name": "rsilevels"},
      "mark": {"type": "rule", "color": "#b8b8b8", "strokeWidth": 1, "strokeDash": [4,3]},
      "encoding": {
        "x": {"datum": -0.125},
        "x2": {"datum": 334.0},
        "y": {"field": "lvl", "type": "quantitative", "title": null}
      }
    },
    {
      "data": {"name": "rsi"},
      "mark": {"type": "line", "color": "#2f7fd4", "strokeWidth": 1},
      "encoding": {
        "x": {"field": "i", "type": "quantitative", "title": null,
              "axis": {"orient": "bottom", "offset": -19,
                       "values": [4,10,26,28,42,52,58,74,76,90,100,106,122,124,138,148,154,170,172,186,196,202,218,220,234,244,250,266,268,282,292],
                       "grid": false,
                       "tickColor": {"condition": {"test": "(datum.value - 4) % 24 === 0", "value": "#000000"}, "value": "transparent"},
                       "tickSize": 4, "labelAlign": "left", "labelBaseline": "top", "labelPadding": 2, "labelOffset": -1,
                       "labelExpr": "(datum.value - 10) % 16 === 0 ? ['27 Oct 06:00','27 Oct 22:00','28 Oct 14:00','31 Oct 06:00','31 Oct 22:00','1 Nov 14:00','2 Nov 06:00','2 Nov 22:00','3 Nov 14:00','4 Nov 06:00','4 Nov 22:00','7 Nov 14:00','8 Nov 06:00','8 Nov 22:00','9 Nov 14:00','10 Nov 06:00','10 Nov 22:00','11 Nov 14:00'][(datum.value - 10) / 16] : ''",
                       "domain": false, "title": null}},
        "y": {"field": "v", "type": "quantitative", "title": null,
              "scale": {"domain": [-0.9, 101.3], "range": [725, 529], "nice": false, "zero": false},
              "axis": {"orient": "right", "offset": -44, "values": [0,30,50,70,100], "tickSize": 3, "labelPadding": 2, "labelFlush": 6,
                       "grid": false, "domain": false, "title": null}}
      }
    },
    {
      "data": {"values": [{"lvl": 85.641}]},
      "mark": {"type": "rule", "color": "#d00000", "strokeWidth": 1},
      "encoding": {
        "x": {"datum": -0.125},
        "x2": {"datum": 334.0},
        "y": {"field": "lvl", "type": "quantitative", "title": null}
      }
    },
    {
      "data": {"name": "rsitrend"},
      "mark": {"type": "line", "color": "#e00000", "strokeWidth": 1},
      "encoding": {
        "x": {"field": "i", "type": "quantitative", "title": null},
        "y": {"field": "v", "type": "quantitative", "title": null},
        "detail": {"field": "ln"}
      }
    },
    {
      "data": {"name": "vlines"},
      "mark": {"type": "rule", "color": "#108080", "strokeWidth": 1},
      "encoding": {
        "x": {"field": "i", "type": "quantitative", "title": null},
        "y": {"datum": 101.3},
        "y2": {"datum": -2.0}
      }
    },
    {
      "data": {"values": [{"lvl": 85.641}]},
      "mark": {"type": "point", "shape": "M -1 -0.227 L 1 -0.227 L 1 0.227 L -1 0.227 Z", "size": 1936, "filled": true, "opacity": 1, "color": "#ee1111"},
      "encoding": {
        "x": {"datum": 339.625},
        "y": {"field": "lvl", "type": "quantitative", "title": null}
      }
    },
    {
      "data": {"values": [{"lvl": 85.641, "t": "85.64102"}]},
      "mark": {"type": "text", "align": "left", "baseline": "middle", "fontSize": 9, "font": "Liberation Sans", "color": "#ffffff"},
      "encoding": {
        "x": {"datum": 335.2},
        "y": {"field": "lvl", "type": "quantitative", "title": null},
        "text": {"field": "t"}
      }
    },
    {
      "data": {"values": [{"t": "2011.  2011.  2011.11.12 18:00"}]},
      "mark": {"type": "rect", "color": "#0a8080"},
      "encoding": {
        "x": {"datum": 286.1},
        "x2": {"datum": 318.6},
        "y": {"datum": -2.0},
        "y2": {"datum": -10.3}
      }
    },
    {
      "data": {"values": [{"t": "2011.  2011.  2011.11.12 18:00"}]},
      "mark": {"type": "text", "align": "left", "baseline": "middle", "fontSize": 9, "font": "Liberation Sans", "color": "#ffffff"},
      "encoding": {
        "x": {"datum": 286.6},
        "y": {"datum": -6.2},
        "text": {"field": "t"}
      }
    }
  ]
}
],
"resolve": {"scale": {"y": "independent"}, "axis": {"y": "independent"}}
}
